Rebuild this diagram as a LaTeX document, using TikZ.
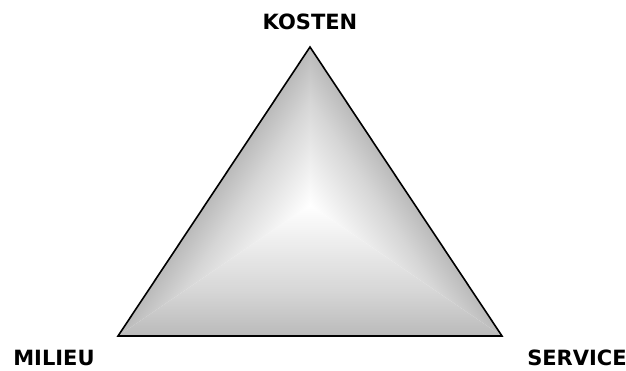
\documentclass[tikz,border=0pt]{standalone}
\usepackage{fontspec}
\setmainfont{DejaVu Sans}
\usepackage{tikz}
\usetikzlibrary{calc,positioning}
\definecolor{EdgeGray}{RGB}{178,178,178}
\definecolor{MidGray}{RGB}{214,214,214}
\pgfdeclareverticalshading{facetfade}{100bp}{%
  color(0bp)=(white); color(25bp)=(white);
  color(58bp)=(MidGray); color(80bp)=(EdgeGray);
  color(100bp)=(EdgeGray)}
\tikzset{
  facet/.style={shading=facetfade},
  corner label/.style={font=\bfseries\fontsize{21}{25}\selectfont}
}

\begin{document}
\begin{tikzpicture}[x=1pt,y=1pt]
  \useasboundingbox (0,0) rectangle (626,370);
  \coordinate (top) at (310,323);
  \coordinate (left) at (118,34);
  \coordinate (right) at (502,34);
  \coordinate (peak) at (310,165); % brightest spot

  % each facet fades from its edge to the peak
  \begin{scope}
    \clip (left)--(right)--(peak)--cycle;
    \begin{scope}[transform canvas={shift={(310,34)},rotate=180}]
      \shade[facet] (-220,-131) rectangle (220,0);
    \end{scope}
  \end{scope}
  \begin{scope}
    \clip (left)--(top)--(peak)--cycle;
    \begin{scope}[transform canvas={shift={(214,178.5)},rotate=56.4}]
      \shade[facet] (-220,-87.4) rectangle (220,0);
    \end{scope}
  \end{scope}
  \begin{scope}
    \clip (top)--(right)--(peak)--cycle;
    \begin{scope}[transform canvas={shift={(406,178.5)},rotate=-56.4}]
      \shade[facet] (-220,-87.4) rectangle (220,0);
    \end{scope}
  \end{scope}

  \draw[line width=1.6pt] (top)--(left)--(right)--cycle;

  \node[corner label] (kosten) at (310,348) {KOSTEN};
  \node[corner label] (milieu) at (54,12) {MILIEU};
  \node[corner label] (service) at (577,12) {SERVICE};
\end{tikzpicture}
\end{document}
